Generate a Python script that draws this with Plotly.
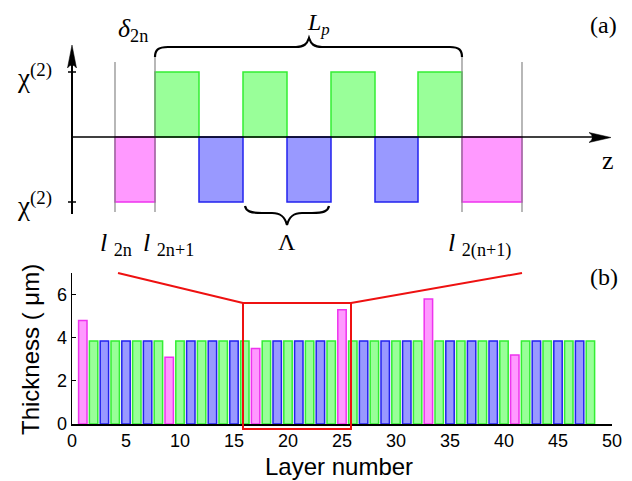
import plotly.graph_objects as go

W, H = 632, 481

# ---------------- data: bottom chart (layer thickness, µm) ----------------
pink_layers = [1, 9, 17, 25, 33, 41]
pink_thickness = [4.8, 3.1, 3.5, 5.3, 5.8, 3.2]
green_layers = [2, 4, 6, 8, 10, 12, 14, 16, 18, 20, 22, 24,
                26, 28, 30, 32, 34, 36, 38, 40, 42, 44, 46, 48]
green_thickness = [3.85, 3.85, 3.85, 3.85, 3.85, 3.85, 3.85, 3.85, 3.85, 3.85, 3.85, 3.85,
                   3.85, 3.85, 3.85, 3.85, 3.85, 3.85, 3.85, 3.85, 3.85, 3.85, 3.85, 3.85]
blue_layers = [3, 5, 7, 11, 13, 15, 19, 21, 23, 27, 29, 31, 35, 37, 39, 43, 45, 47]
blue_thickness = [3.85, 3.85, 3.85, 3.85, 3.85, 3.85, 3.85, 3.85, 3.85,
                  3.85, 3.85, 3.85, 3.85, 3.85, 3.85, 3.85, 3.85, 3.85]
x_ticks = [0, 5, 10, 15, 20, 25, 30, 35, 40, 45, 50]
y_ticks = [0, 2, 4, 6]

# ---------------- data: top schematic (chi(2) sign per domain) -------------
top_kind = ["pink", "green", "blue", "green", "blue", "green", "blue", "green", "pink"]
top_sign = [-1, 1, -1, 1, -1, 1, -1, 1, -1]
top_width = [40, 44, 44, 44, 44, 44, 43, 44, 60]
top_start = 43

FILL = {"pink": "#ff99ff", "green": "#99ff99", "blue": "#9999ff"}
LINE = {"pink": "#ee33ee", "green": "#33ee33", "blue": "#2222ee"}

SERIF = "Liberation Serif"
SANS = "Liberation Sans"


def P(px, py):
    return px / W, 1 - py / H


fig = go.Figure()

# bottom chart bars
for kind, xs, ys in [("green", green_layers, green_thickness),
                     ("blue", blue_layers, blue_thickness),
                     ("pink", pink_layers, pink_thickness)]:
    fig.add_trace(go.Bar(x=xs, y=ys, width=0.78, marker=dict(color=FILL[kind],
                         line=dict(color=LINE[kind], width=1.5)),
                         xaxis="x", yaxis="y", showlegend=False))

# top schematic bars
centers, widths, vals = {}, {}, {}
pos = top_start
for k, s, w in zip(top_kind, top_sign, top_width):
    centers.setdefault(k, []).append(pos + w / 2)
    widths.setdefault(k, []).append(w)
    vals.setdefault(k, []).append(s)
    pos += w
for k in ["green", "blue", "pink"]:
    fig.add_trace(go.Bar(x=centers[k], y=vals[k], width=widths[k], base=0,
                         marker=dict(color=FILL[k], line=dict(color=LINE[k], width=1.5)),
                         xaxis="x3", yaxis="y3", showlegend=False))

# axes
x0p, x1p = 72, 612
fig.update_layout(
    width=W, height=H, autosize=False,
    margin=dict(l=0, r=0, t=0, b=0, pad=0),
    paper_bgcolor="white", plot_bgcolor="rgba(0,0,0,0)",
    barmode="overlay", bargap=0,
    xaxis=dict(domain=[x0p / W, x1p / W], range=[0, 50], tickvals=x_ticks,
               ticks="inside", ticklen=4, tickcolor="black", showline=True,
               linecolor="black", linewidth=1.5, showgrid=False, zeroline=False,
               tickfont=dict(family=SANS, size=18, color="black"), anchor="y",
               layer="below traces", automargin=False),
    yaxis=dict(domain=[1 - 424 / H, 1 - 273 / H], range=[0, 7], tickvals=y_ticks,
               ticks="inside", ticklen=4, tickcolor="black", showline=True,
               linecolor="black", linewidth=1.5, showgrid=False, zeroline=False,
               tickfont=dict(family=SANS, size=18, color="black"), anchor="x",
               layer="below traces", automargin=False),
    xaxis3=dict(domain=[x0p / W, x1p / W], range=[0, 540], visible=False, anchor="y3",
                automargin=False),
    yaxis3=dict(domain=[1 - 212 / H, 1 - 47 / H], range=[-75 / 65, 90 / 65],
                visible=False, anchor="x3", automargin=False),
)

shapes = []


def line(xa, ya, xb, yb, color="black", width=1.5):
    a, b = P(xa, ya), P(xb, yb)
    shapes.append(dict(type="line", xref="paper", yref="paper", x0=a[0], y0=a[1],
                       x1=b[0], y1=b[1], line=dict(color=color, width=width)))


def path(pts_cmds, color="black", width=2, fill=None):
    s = ""
    for cmd, pts in pts_cmds:
        s += cmd + " " + " ".join("%.5f,%.5f" % P(x, y) for x, y in pts) + " "
    if fill:
        s += "Z"
    shapes.append(dict(type="path", xref="paper", yref="paper", path=s,
                       line=dict(color=color, width=width),
                       fillcolor=fill if fill else "rgba(0,0,0,0)"))


# gray boundary lines
for xg, ytop in [(115, 62), (155, 57), (462, 57), (522, 62)]:
    line(xg, ytop, xg, 212, color="#888888", width=1.2)

# z axis and chi axis
line(72, 137, 600, 137, width=1.5)
path([("M", [(611, 137.5)]), ("L", [(589, 132.5)]), ("Q", [(596, 137.5), (589, 142.5)])],
     width=0.5, fill="black")
line(72, 60, 72, 214, width=2)
path([("M", [(72, 45)]), ("L", [(76.5, 68)]), ("Q", [(72, 62), (67.5, 68)])],
     width=0.5, fill="black")
line(68, 72, 76, 72, width=1.5)
line(68, 202, 76, 202, width=1.5)

# top brace (L_p)
path([("M", [(155, 57)]), ("C", [(155, 50), (158, 47), (168, 47)]),
      ("L", [(296, 47)]), ("C", [(304, 47), (307, 44), (309, 38)]),
      ("C", [(311, 44), (314, 47), (322, 47)]),
      ("L", [(450, 47)]), ("C", [(459, 47), (462, 50), (462, 57)])], width=2.2)
# bottom brace (Lambda)
path([("M", [(245, 206)]), ("C", [(246, 211), (250, 213), (262, 213)]),
      ("L", [(272, 213)]), ("C", [(281, 213), (285, 217), (287, 225)]),
      ("C", [(289, 217), (293, 213), (302, 213)]),
      ("L", [(312, 213)]), ("C", [(324, 213), (328, 211), (329, 206)])], width=2.2)

# red zoom box and connectors
line(118, 273, 243, 303, color="#ee1111", width=2)
line(351, 303, 522, 273, color="#ee1111", width=2)
a, b = P(243, 303), P(351, 429)
shapes.append(dict(type="rect", xref="paper", yref="paper", x0=a[0], y0=a[1],
                   x1=b[0], y1=b[1], line=dict(color="#ee1111", width=2),
                   fillcolor="rgba(0,0,0,0)"))

fig.update_layout(shapes=shapes)

ann = []


def text(t, px, py, size=22, family=SERIF, xanchor="left", yanchor="middle", angle=0):
    x, y = P(px, py)
    ann.append(dict(text=t, x=x, y=y, xref="paper", yref="paper", showarrow=False,
                    xanchor=xanchor, yanchor=yanchor, textangle=angle,
                    font=dict(family=family, size=size, color="black")))


text("χ<sup>(2)</sup>", 15, 76, size=27)
text("χ<sup>(2)</sup>", 15, 204, size=27)
text("<i>δ</i><sub>2n</sub>", 116, 30, size=26)
text("<i>L<sub>p</sub></i>", 305, 24, size=24)
text("(a)", 588, 25, size=24)
text("z", 608, 160, size=26, xanchor="center")
text("Λ", 287, 242, size=24, xanchor="center")
text("<i>l</i> <sub>2n</sub>", 98, 244, size=26)
text("<i>l</i> <sub>2n+1</sub>", 141, 244, size=26)
text("<i>l</i> <sub>2(n+1)</sub>", 446, 244, size=26)
text("(b)", 588, 277, size=24)
text("Thickness ( μm)", 30, 350, size=24, family=SANS, xanchor="center", angle=-90)
text("Layer number", 339, 466, size=24, family=SANS, xanchor="center")
fig.update_layout(annotations=ann)

fig.write_html("out.html", config={"displayModeBar": False, "staticPlot": True},
               post_script="document.body.style.margin='0px';")
